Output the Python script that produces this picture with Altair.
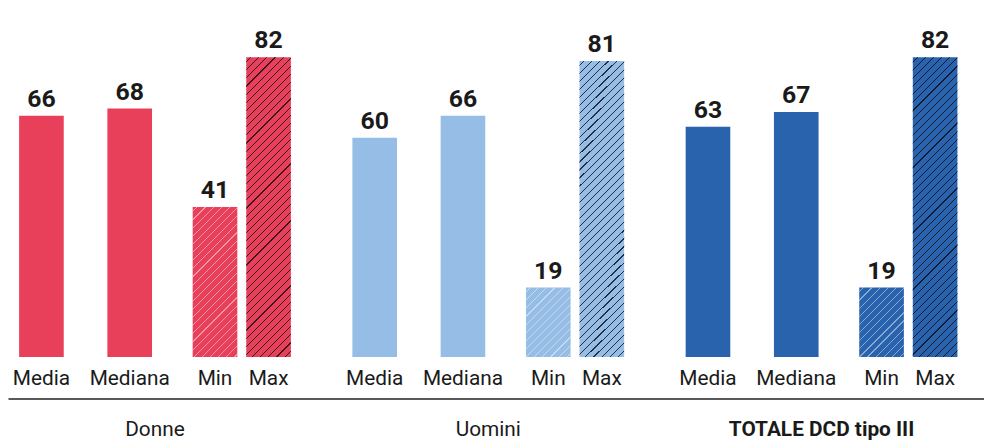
import altair as alt
import pandas as pd

# ---- data ----
groups = ["Donne", "Uomini", "TOTALE DCD tipo III"]
metrics = ["Media", "Mediana", "Min", "Max"]
donne = [66, 68, 41, 82]
uomini = [60, 66, 19, 81]
totale = [63, 67, 19, 82]

series = {groups[0]: donne, groups[1]: uomini, groups[2]: totale}
rows = []
for g in groups:
    for m, v in zip(metrics, series[g]):
        rows.append({"group": g, "metric": m, "value": v})
df = pd.DataFrame(rows)

# ---- styling ----
FONT = "Roboto"
TXT = "#1a1a1a"
group_colors = ["#e8405b", "#95bde6", "#2962ad"]
PLOT_W, PLOT_H = 984, 350
YMAX = 95
BAR_W = 45
# horizontal nudge of each metric's bar inside its group (style offsets, px)
nudges = {"Media": -114.5, "Mediana": -25.5, "Min": 60.5, "Max": 114.5}


def hatch(h, color, w=BAR_W, period=8.2, lw=1.15):
    """Diagonal '/' stripes as a linear gradient over a w x h bar."""
    total = w + h
    d = w * w + h * h
    x2 = w * total / d
    y2 = h * total / d
    clear = "rgba(0,0,0,0)"
    stops = [{"offset": 0, "color": clear}]
    c = period / 2
    while c + lw < total:
        a, b = c / total, (c + lw) / total
        stops += [
            {"offset": a, "color": clear},
            {"offset": a, "color": color},
            {"offset": b, "color": color},
            {"offset": b, "color": clear},
        ]
        c += period
    stops.append({"offset": 1, "color": clear})
    return {"gradient": "linear", "x1": 0, "y1": 0, "x2": x2, "y2": y2, "stops": stops}


def px(v):
    return v / YMAX * PLOT_H


LIGHT = "rgba(255,255,255,0.45)"
DARK = "rgba(10,10,20,0.8)"

X = alt.X(
    "group:N",
    sort=groups,
    scale=alt.Scale(domain=groups, paddingInner=0.1179, paddingOuter=0.0232, align=0),
    axis=alt.Axis(
        orient="bottom",
        offset=42,
        domain=True,
        domainColor="#222222",
        domainWidth=1.5,
        ticks=False,
        labelAngle=0,
        labelFont=FONT,
        labelFontSize=21,
        labelColor=TXT,
        labelPadding=20,
        labelLimit=0,
        labelFontWeight={
            "condition": {"test": "datum.value === 'TOTALE DCD tipo III'", "value": "bold"},
            "value": "normal",
        },
        title=None,
    ),
)
Y = alt.Y("value:Q", scale=alt.Scale(domain=[0, YMAX], nice=False, zero=True), axis=None)
Y0 = alt.YDatum(0, axis=None)
COLOR = alt.Color("group:N", scale=alt.Scale(domain=groups, range=group_colors), legend=None)

base = alt.Chart(df)


def part(metric, hatch_fill=None):
    nudge = nudges[metric]
    sub = base.transform_filter(alt.datum.metric == metric)
    layers = [sub.mark_bar(width=BAR_W, xOffset=nudge).encode(x=X, y=Y, color=COLOR)]
    if hatch_fill is not None:
        layers.append(
            sub.mark_bar(width=BAR_W, xOffset=nudge).encode(x=X, y=Y, fill=hatch_fill)
        )
    layers.append(
        sub.mark_text(
            dx=nudge, dy=-9, baseline="alphabetic", font=FONT, fontSize=25,
            fontWeight="bold", color=TXT,
        ).encode(x=X, y=Y, text=alt.Text("value:Q"))
    )
    layers.append(
        sub.mark_text(
            dx=nudge, dy=11, baseline="top", font=FONT, fontSize=21, color=TXT,
        ).encode(x=X, y=Y0, text=alt.Text("metric:N"))
    )
    return layers


min_fill = alt.condition(
    "datum.value < 30",
    alt.value(hatch(px(19), LIGHT)),
    alt.value(hatch(px(41), LIGHT)),
)
max_fill = alt.value(hatch(px(82), DARK))

layers = []
layers += part("Media")
layers += part("Mediana")
layers += part("Min", min_fill)
layers += part("Max", max_fill)

chart = (
    alt.layer(*layers)
    .properties(
        width=PLOT_W,
        height=PLOT_H,
        padding={"left": 0, "top": 0, "right": 0, "bottom": 85},
        autosize=alt.AutoSizeParams(type="none"),
    )
    .configure_view(stroke=None)
)

chart.save("out.html", embed_options={"renderer": "svg", "actions": False})
